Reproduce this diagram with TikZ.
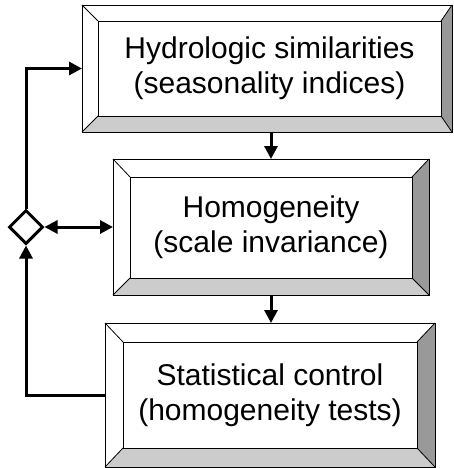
\documentclass[tikz,border=0pt]{standalone}
\usepackage{fontspec}
\setmainfont{Liberation Sans}
\usetikzlibrary{arrows.meta,shapes.geometric}
\definecolor{bevlight}{RGB}{204,204,204}
\definecolor{bevdark}{RGB}{153,153,153}
\tikzset{
  outerbox/.style={rectangle,draw=none,outer sep=0pt,inner sep=0pt},
  innerbox/.style={rectangle,draw=black,line width=0.8pt,fill=white,outer sep=0pt,inner sep=0pt,
    align=center,font=\fontsize{30}{35}\selectfont},
  bevel/.style={draw=black,line width=0.8pt},
  conn/.style={draw=black,line width=3pt},
  arr/.style={conn,-{Triangle[length=13pt,width=13pt]}},
  dblarr/.style={conn,{Triangle[length=13pt,width=13pt]}-{Triangle[length=13pt,width=13pt]}},
  gate/.style={diamond,draw=black,line width=3pt,fill=white,minimum width=34pt,minimum height=34pt,inner sep=0pt}
}
\newcommand{\bevels}[1]{%
  \fill[white] (#1o.north west) -- (#1o.north east) -- (#1.north east) -- (#1.north west) -- cycle;
  \fill[white] (#1o.north west) -- (#1o.south west) -- (#1.south west) -- (#1.north west) -- cycle;
  \fill[bevlight] (#1o.south west) -- (#1o.south east) -- (#1.south east) -- (#1.south west) -- cycle;
  \fill[bevdark] (#1o.north east) -- (#1o.south east) -- (#1.south east) -- (#1.north east) -- cycle;
  \draw[bevel] (#1o.north west) rectangle (#1o.south east);
  \draw[bevel] (#1o.north west) -- (#1.north west);
  \draw[bevel] (#1o.north east) -- (#1.north east);
  \draw[bevel] (#1o.south west) -- (#1.south west);
  \draw[bevel] (#1o.south east) -- (#1.south east);
  \draw[bevel] (#1.north west) rectangle (#1.south east);
}
\begin{document}
\begin{tikzpicture}[x=1pt,y=-1pt]
\useasboundingbox (0,0) rectangle (453,468);
% outer frames
\node[outerbox,minimum width=370pt,minimum height=127pt] (b1o) at (267,68.5) {};
\node[outerbox,minimum width=316pt,minimum height=136pt] (b2o) at (271,227) {};
\node[outerbox,minimum width=330pt,minimum height=144pt] (b3o) at (270,395) {};
% inner faces with text
\node[innerbox,minimum width=343pt,minimum height=95pt] (b1) at (269.5,68.5) {Hydrologic similarities\\(seasonality indices)};
\bevels{b1}
\node[innerbox,minimum width=282pt,minimum height=101pt] (b2) at (271,227.5) {Homogeneity\\(scale invariance)};
\bevels{b2}
\node[innerbox,minimum width=294pt,minimum height=106pt] (b3) at (270,395) {Statistical control\\(homogeneity tests)};
\bevels{b3}
% decision diamond
\node[gate] (d) at (26,227) {};
% connectors
\draw[arr] (b1o.south -| b2o.north) -- (b2o.north);
\draw[arr] (b2o.south) -- (b2o.south |- b3o.north);
\draw[dblarr] (d.east) -- (b2o.west);
\draw[arr] (b3o.west) -| (d.south);
\draw[arr] (d.north) |- (b1o.west);
\end{tikzpicture}
\end{document}
